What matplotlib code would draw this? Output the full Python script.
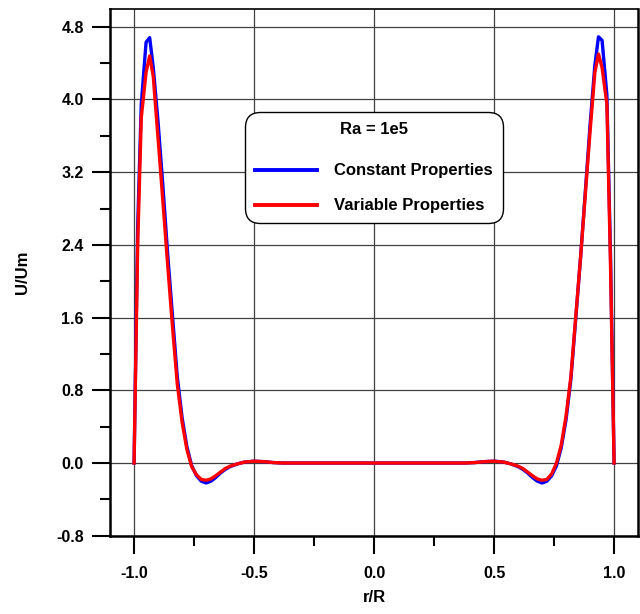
import numpy as np
import matplotlib
matplotlib.use('Agg')
import matplotlib.pyplot as plt
from matplotlib.ticker import MultipleLocator, FormatStrFormatter

plt.rcParams['font.family'] = ['Liberation Sans', 'DejaVu Sans']
plt.rcParams['font.weight'] = 'bold'

# radial positions, wall to centre to wall
r = [-1.0, -0.985, -0.97, -0.95, -0.935, -0.92, -0.9, -0.88, -0.86, -0.84,
     -0.82, -0.8, -0.78, -0.76, -0.74, -0.72, -0.7, -0.68, -0.66, -0.64,
     -0.62, -0.6, -0.57, -0.54, -0.5, -0.46, -0.42, -0.38, -0.3, -0.2,
     -0.1, 0.0, 0.1, 0.2, 0.3, 0.38, 0.42, 0.46, 0.5, 0.54,
     0.57, 0.6, 0.62, 0.64, 0.66, 0.68, 0.7, 0.72, 0.74, 0.76,
     0.78, 0.8, 0.82, 0.84, 0.86, 0.88, 0.9, 0.92, 0.935, 0.95,
     0.97, 0.985, 1.0]

# U/Um, constant properties
u_const = [0.0, 2.6, 3.95, 4.63, 4.68, 4.35, 3.75, 3.05, 2.3, 1.62,
           0.95, 0.5, 0.18, -0.03, -0.14, -0.2, -0.22, -0.2, -0.16, -0.11,
           -0.07, -0.04, -0.01, 0.01, 0.02, 0.015, 0.005, 0.0, 0.0, 0.0,
           0.0, 0.0, 0.0, 0.0, 0.0, 0.0, 0.005, 0.015, 0.02, 0.01,
           -0.01, -0.04, -0.07, -0.11, -0.16, -0.2, -0.22, -0.2, -0.14, -0.03,
           0.17, 0.48, 0.92, 1.58, 2.25, 2.98, 3.72, 4.38, 4.69, 4.65,
           4.05, 2.3, 0.0]

# U/Um, variable properties
u_var = [0.0, 2.4, 3.8, 4.3, 4.48, 4.25, 3.57, 2.88, 2.18, 1.5,
         0.87, 0.45, 0.15, -0.04, -0.13, -0.18, -0.19, -0.175, -0.14, -0.1,
         -0.06, -0.035, -0.01, 0.01, 0.02, 0.015, 0.005, 0.0, 0.0, 0.0,
         0.0, 0.0, 0.0, 0.0, 0.0, 0.0, 0.005, 0.015, 0.02, 0.01,
         -0.01, -0.035, -0.06, -0.1, -0.14, -0.175, -0.19, -0.18, -0.12, 0.0,
         0.2, 0.52, 0.95, 1.6, 2.25, 2.95, 3.65, 4.3, 4.5, 4.35,
         3.95, 2.2, 0.0]

fig = plt.figure(figsize=(6.4, 6.14), dpi=100)
ax = fig.add_axes([0.172, 0.1275, 0.825, 0.8585])

ax.plot(r, u_const, color='blue', lw=2.4, label='Constant Properties')
ax.plot(r, u_var, color='red', lw=2.4, label='Variable Properties')

ax.set_xlim(-1.1, 1.1)
ax.set_ylim(-0.8, 5.0)

ax.xaxis.set_major_locator(MultipleLocator(0.5))
ax.xaxis.set_minor_locator(MultipleLocator(0.25))
ax.yaxis.set_major_locator(MultipleLocator(0.8))
ax.yaxis.set_minor_locator(MultipleLocator(0.4))
ax.xaxis.set_major_formatter(FormatStrFormatter('%.1f'))
ax.yaxis.set_major_formatter(FormatStrFormatter('%.1f'))

ax.tick_params(which='major', direction='out', length=13, width=1.5,
               labelsize=11.5)
ax.tick_params(which='minor', direction='out', length=7, width=1.5)
ax.tick_params(axis='y', which='major', pad=6)
ax.tick_params(axis='x', which='major', pad=9)

ax.grid(True, which='major', color='0.25', lw=0.9)
ax.set_axisbelow(True)

for side in ['left', 'bottom', 'right']:
    ax.spines[side].set_linewidth(1.8)
ax.spines['top'].set_linewidth(1.2)

ax.set_xlabel('r/R', fontsize=12, fontweight='bold', labelpad=6)
ax.set_ylabel('U/Um', fontsize=12, fontweight='bold', labelpad=19)

leg = ax.legend(loc='center', bbox_to_anchor=(0.5, 0.698), title='Ra = 1e5',
                fontsize=12, title_fontproperties={'weight': 'bold', 'size': 12},
                handlelength=3.7, handletextpad=1.05, labelspacing=1.2,
                borderpad=0.6, fancybox=True, framealpha=1, edgecolor='black')
leg.get_frame().set_linewidth(1.0)
leg.get_frame().set_boxstyle('round', pad=0.0, rounding_size=0.9)
leg._legend_box.sep = 19
for line in leg.get_lines():
    line.set_linewidth(2.8)

fig.savefig('out.png', dpi=100)
